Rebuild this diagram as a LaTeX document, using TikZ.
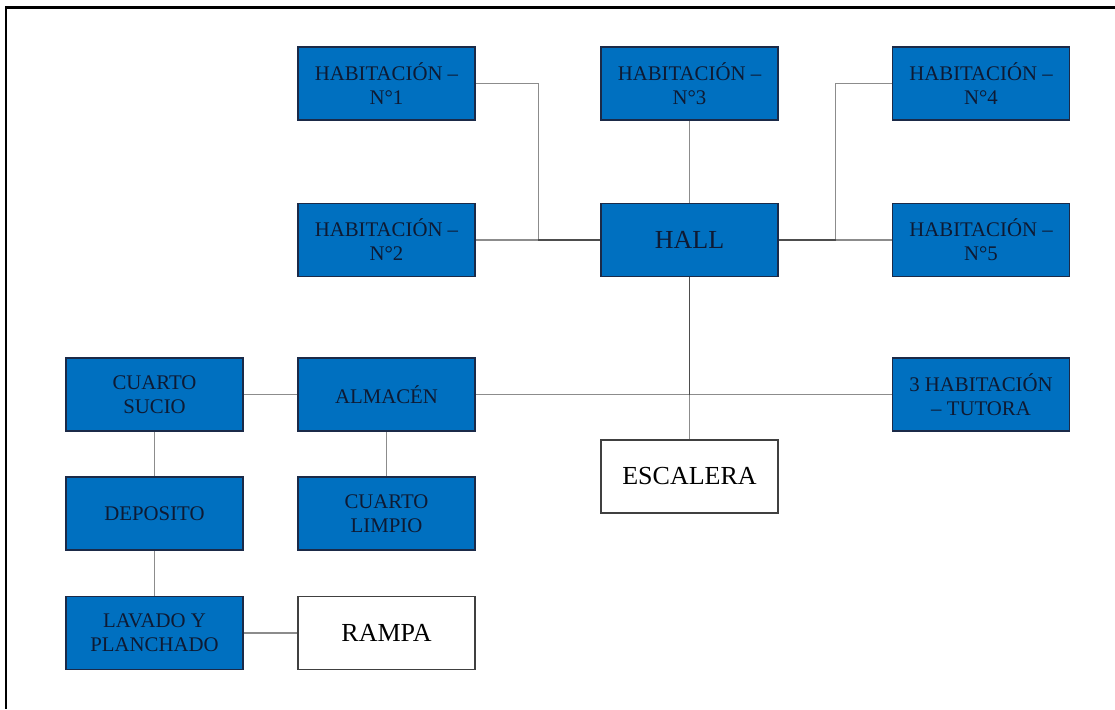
\documentclass[tikz,border=0pt]{standalone}
\usepackage{fontspec}
\setmainfont{Liberation Serif}
\definecolor{roomblue}{HTML}{0070C0}
\definecolor{roomedge}{HTML}{1B2A48}
\definecolor{roomtext}{HTML}{0E1A33}
\definecolor{plainedge}{HTML}{404040}
\begin{document}
\begin{tikzpicture}[x=1pt,y=-1pt,
  room/.style={draw=roomedge, line width=1.4pt, fill=roomblue, text=roomtext,
    minimum width=177pt, minimum height=73pt, inner sep=0pt, align=center,
    font=\fontsize{20.8}{24}\selectfont},
  plain/.style={draw=plainedge, line width=1.4pt, fill=white, text=black,
    minimum width=177pt, minimum height=73pt, inner sep=0pt, align=center,
    font=\fontsize{26}{30}\selectfont},
  link/.style={draw=black, draw opacity=0.45, line width=1.1pt}]
\useasboundingbox (0,0) rectangle (1115,709);
% outer frame
\draw[line width=2.4pt] (1115,7.5) -- (6,7.5) -- (6,709);

% rooms
\node[room] (hab1) at (386.5,83.5) {HABITACIÓN –\\N°1};
\node[room] (hab3) at (689.5,83.5) {HABITACIÓN –\\N°3};
\node[room] (hab4) at (981,83.5) {HABITACIÓN –\\N°4};
\node[room] (hab2) at (386.5,240) {HABITACIÓN –\\N°2};
\node[room, font=\fontsize{26}{30}\selectfont] (hall) at (689.5,240) {HALL};
\node[room] (hab5) at (981,240) {HABITACIÓN –\\N°5};
\node[room] (sucio) at (154.5,394.5) {CUARTO\\SUCIO};
\node[room] (almacen) at (386.5,394.5) {ALMACÉN};
\node[room] (tutora) at (981,394.5) {3 HABITACIÓN\\– TUTORA};
\node[plain] (escalera) at (689.5,476.5) {ESCALERA};
\node[room] (deposito) at (154.5,513.5) {DEPOSITO};
\node[room] (limpio) at (386.5,513.5) {CUARTO\\LIMPIO};
\node[room] (lavado) at (154.5,633) {LAVADO Y\\PLANCHADO};
\node[plain] (rampa) at (386.5,633) {RAMPA};

% connectors around the hall
\draw[link] (hab1.east) -- ++(63,0) |- (hall.west);
\draw[link] (hab2.east) -- (hall.west);
\draw[link] (hab3.south) -- (hall.north);
\draw[link] (hall.east) -- ++(57,0) |- (hab4.west);
\draw[link] (hall.east) -- (hab5.west);
\draw[link] (hall.south) |- (tutora.west);
\draw[link] (almacen.east) -| (hall.south);
\coordinate (junction) at (hall.south |- almacen.east);
\draw[link] (junction) -- (escalera.north);

% service wing
\draw[link] (sucio.east) -- (almacen.west);
\draw[link] (sucio.south) -- (deposito.north);
\draw[link] (almacen.south) -- (limpio.north);
\draw[link] (deposito.south) -- (lavado.north);
\draw[link] (lavado.east) -- (rampa.west);
\end{tikzpicture}
\end{document}
